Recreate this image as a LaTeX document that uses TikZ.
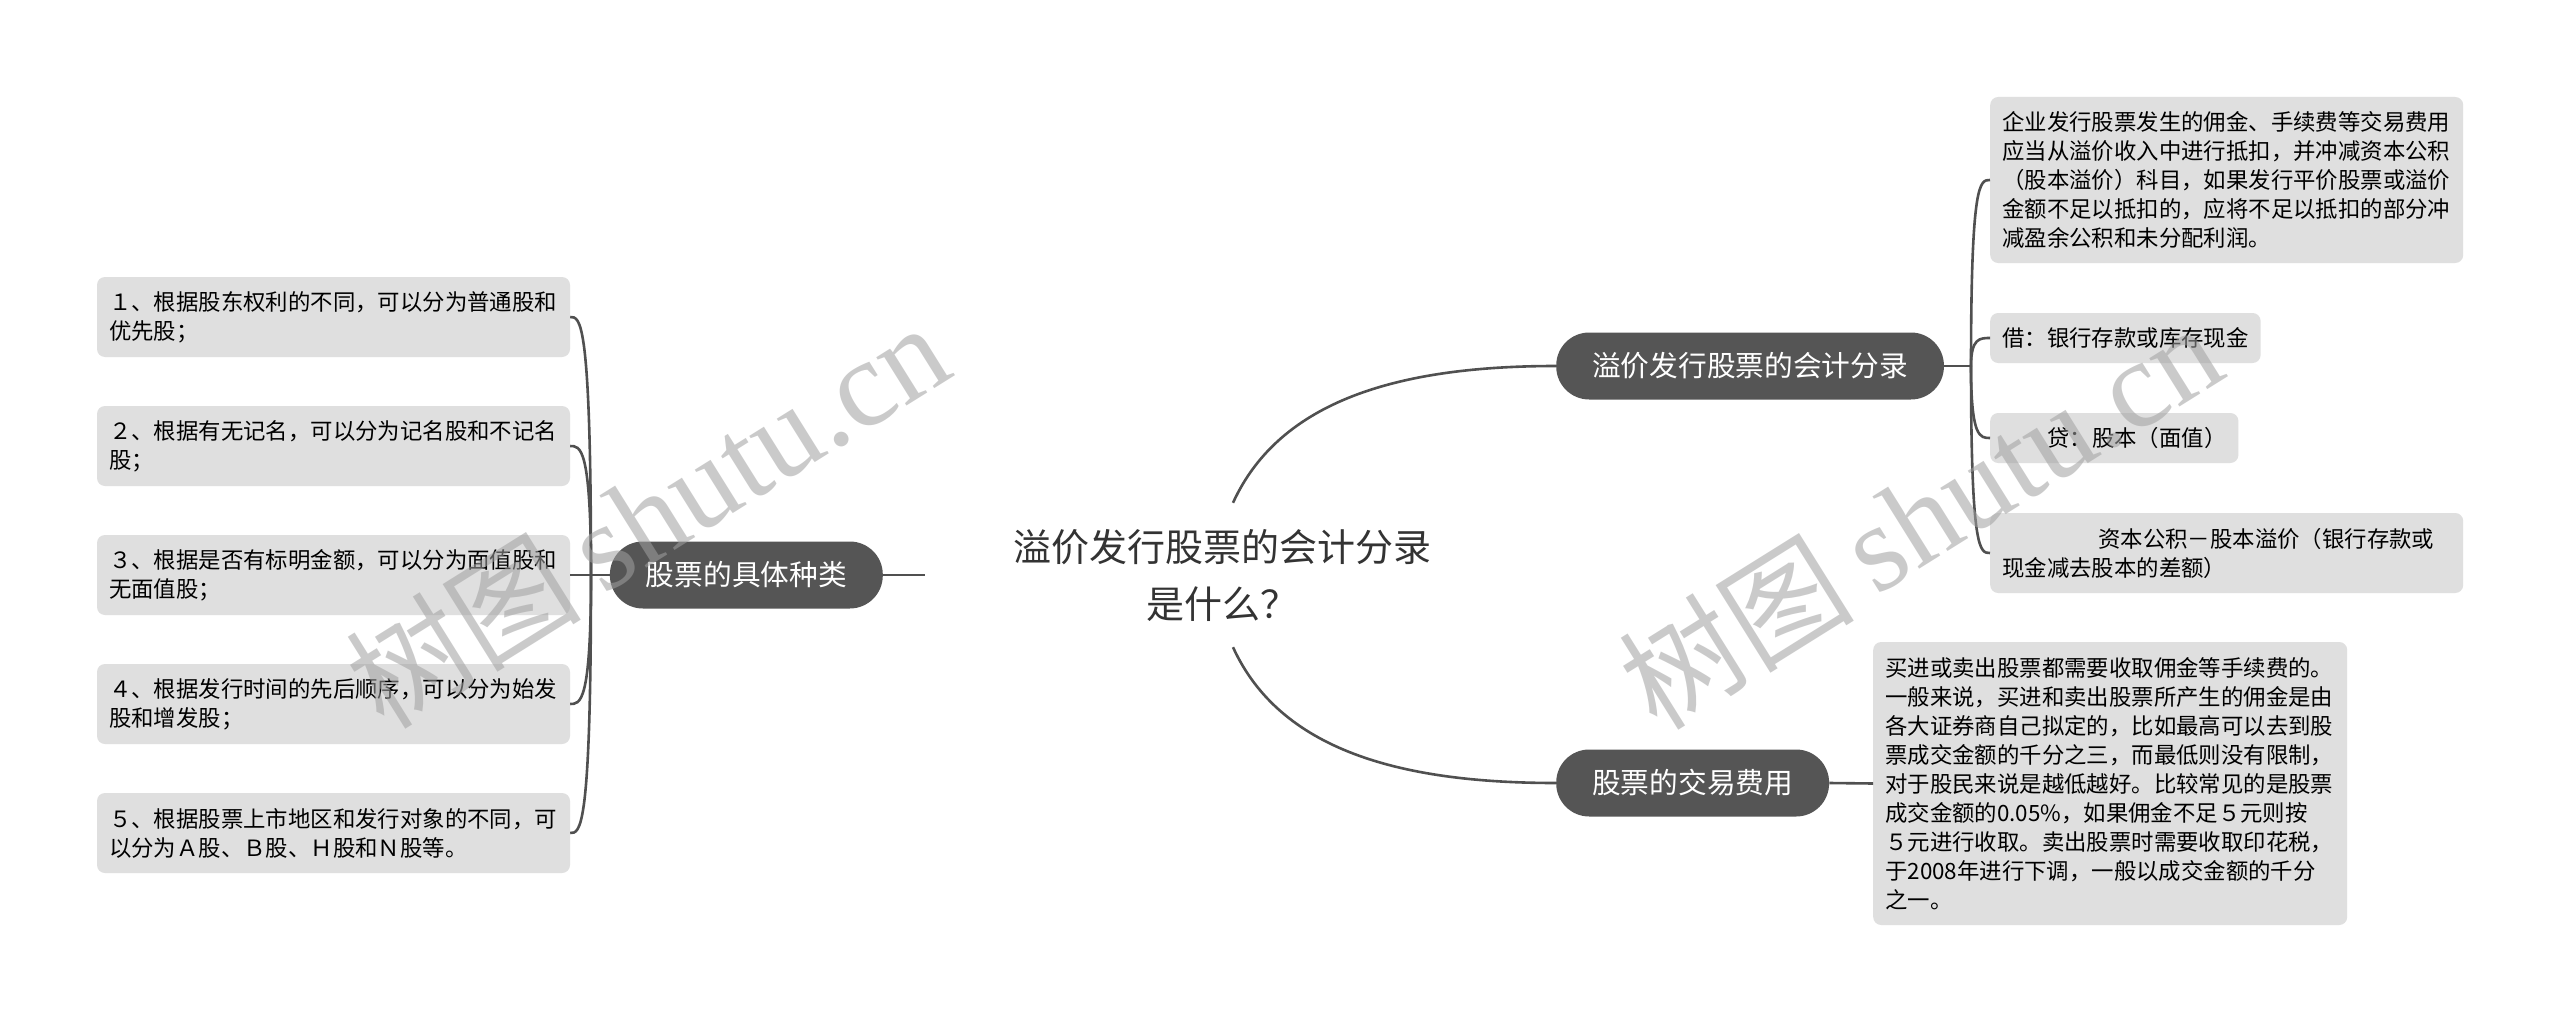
\documentclass[tikz,border=0pt]{standalone}
\usepackage{fontspec}
\setmainfont{Noto Sans CJK SC}
\newfontfamily\wmserif{Liberation Serif}
\usetikzlibrary{calc}
\definecolor{boxgray}{HTML}{DFDFDF}
\definecolor{pillgray}{HTML}{555555}
\definecolor{linegray}{HTML}{505050}
\definecolor{roottext}{HTML}{333333}
\definecolor{wmgray}{HTML}{A0A0A0}
\begin{document}
\begin{tikzpicture}[x=1pt,y=-1pt,
  conn/.style={draw=linegray,line width=2.6pt},
  gbox/.style={fill=boxgray,rounded corners=8pt,inner xsep=12pt,inner ysep=0pt,align=left,text=black,font=\fontsize{22.4}{29}\selectfont},
  pill/.style={fill=pillgray,rounded corners=33pt,text=white,minimum height=67pt,inner xsep=36pt,inner ysep=0pt,font=\fontsize{28.7}{34}\selectfont},
  wmark/.style={text=wmgray,opacity=0.55,rotate=32,inner sep=0pt}
]
\useasboundingbox (0,0) rectangle (2560,1022);
\fill[white] (0,0) rectangle (2560,1022);

% root
\node[font=\fontsize{38}{57}\selectfont,text=roottext,align=center,inner sep=0pt,minimum height=144pt] (root) at (1222,575) {溢价发行股票的会计分录\\是什么？};

% main branches
\node[pill,anchor=west] (n1) at (1556,366) {溢价发行股票的会计分录};
\node[pill,anchor=west] (n2) at (1556,783) {股票的交易费用};
\node[pill,anchor=east] (n3) at (883,575) {股票的具体种类};

% left leaves
\node[gbox,text width=449pt,minimum height=80pt] (b1) at (333.5,317) {１、根据股东权利的不同，可以分为普通股和\\优先股；};
\node[gbox,text width=449pt,minimum height=80pt] (b2) at (333.5,446) {２、根据有无记名，可以分为记名股和不记名\\股；};
\node[gbox,text width=449pt,minimum height=80pt] (b3) at (333.5,575) {３、根据是否有标明金额，可以分为面值股和\\无面值股；};
\node[gbox,text width=449pt,minimum height=80pt] (b4) at (333.5,704) {４、根据发行时间的先后顺序，可以分为始发\\股和增发股；};
\node[gbox,text width=449pt,minimum height=80pt] (b5) at (333.5,833) {５、根据股票上市地区和发行对象的不同，可\\以分为Ａ股、Ｂ股、Ｈ股和Ｎ股等。};

% right leaves
\node[gbox,text width=449pt,minimum height=166pt,anchor=west] (bA) at (1990,180) {企业发行股票发生的佣金、手续费等交易费用\\应当从溢价收入中进行抵扣，并冲减资本公积\\（股本溢价）科目，如果发行平价股票或溢价\\金额不足以抵扣的，应将不足以抵扣的部分冲\\减盈余公积和未分配利润。};
\node[gbox,minimum height=50pt,anchor=west] (bB) at (1990,338) {借：银行存款或库存现金};
\node[gbox,minimum height=50pt,anchor=west] (bC) at (1990,438) {\hspace*{45pt}贷：股本（面值）};
\node[gbox,text width=449pt,minimum height=80pt,anchor=west] (bD) at (1990,553) {\hspace*{96pt}资本公积－股本溢价（银行存款或\\现金减去股本的差额）};
\node[gbox,text width=450pt,minimum height=283pt,anchor=west] (bE) at (1873,783.5) {买进或卖出股票都需要收取佣金等手续费的。\\一般来说，买进和卖出股票所产生的佣金是由\\各大证券商自己拟定的，比如最高可以去到股\\票成交金额的千分之三，而最低则没有限制，\\对于股民来说是越低越好。比较常见的是股票\\成交金额的0.05\%，如果佣金不足５元则按\\５元进行收取。卖出股票时需要收取印花税，\\于2008年进行下调，一般以成交金额的千分\\之一。};

% coordinates
\coordinate (rt) at ([xshift=11pt]root.north);
\coordinate (rb) at ([xshift=11pt]root.south);
\coordinate (brL) at (591,575);
\coordinate (brR) at (1971,366);
\coordinate (stub) at (925,575);

% connectors from root
\draw[conn] (rt) .. controls ($(rt)+(47,-103)$) and ($(n1.west)+(-156,0)$) .. (n1.west);
\draw[conn] (rb) .. controls ($(rb)+(47,103)$) and ($(n2.west)+(-156,0)$) .. (n2.west);
\draw[conn] (n3.east) -- (stub);

% left side
\draw[conn] (n3.west) -- (b3.east);
\foreach \b in {b1,b2,b4,b5}{
  \draw[conn] (brL) .. controls (brL |- \b.east) and ([xshift=10pt]\b.east) .. (\b.east);
}

% right side
\draw[conn] (n1.east) -- (brR);
\foreach \b in {bA,bB,bC,bD}{
  \draw[conn] (brR) .. controls (brR |- \b.west) and ([xshift=-10pt]\b.west) .. (\b.west);
}
\draw[conn] (n2.east) -- (bE.west);

% watermarks
\node[wmark] (wm1) at (647,515) {\fontsize{118}{118}\selectfont 树图\hspace{22pt}{\wmserif\fontsize{124}{124}\selectfont shutu.cn}};
\node[wmark] (wm2) at (1920,516) {\fontsize{118}{118}\selectfont 树图\hspace{22pt}{\wmserif\fontsize{124}{124}\selectfont shutu.cn}};
\end{tikzpicture}
\end{document}
